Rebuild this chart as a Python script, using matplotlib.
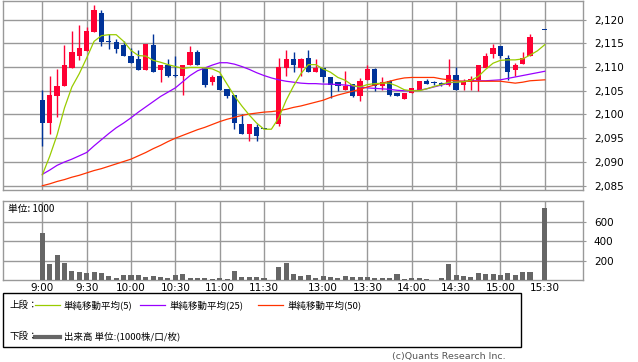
import numpy as np
import matplotlib.pyplot as plt
from matplotlib.patches import Rectangle

plt.rcParams['font.family'] = ['DejaVu Sans']
jp = ['Noto Sans CJK JP', 'DejaVu Sans']

# 5-minute bars, 9:00 .. 11:30, one empty slot, 12:30 .. 15:30 (15:25 empty)
nan = np.nan
opens = [2103.0, 2098.3, 2103.8, 2105.9, 2109.8, 2112.3, 2113.3, 2117.3, 2121.4, 2115.3,
         2115.3, 2114.6, 2112.4, 2111.6, 2109.3, 2114.6, 2109.3, 2110.4, 2108.2, 2108.2,
         2110.4, 2113.1, 2109.8, 2106.8, 2108.0, 2105.4, 2104.0, 2098.1, 2095.9, 2097.4,
         2096.9, nan, 2098.0, 2109.8, 2111.6, 2109.8, 2112.0, 2108.9, 2109.8, 2107.9,
         2106.9, 2105.2, 2106.5, 2103.8, 2107.3, 2109.5, 2105.9, 2107.0, 2104.5, 2103.3,
         2104.5, 2105.2, 2107.0, 2106.6, 2106.6, 2106.3, 2108.4, 2106.3, 2106.9, 2107.3,
         2109.8, 2112.8, 2114.5, 2111.9, 2109.3, 2110.7, 2112.3, nan, 2117.8]
highs = [2105.1, 2108.0, 2109.5, 2114.6, 2117.5, 2118.9, 2118.5, 2123.0, 2121.9, 2117.0,
         2116.0, 2115.4, 2113.9, 2113.5, 2114.9, 2117.0, 2110.5, 2111.6, 2112.4, 2110.5,
         2114.5, 2113.5, 2109.8, 2108.4, 2108.0, 2105.4, 2104.0, 2100.0, 2098.1, 2098.0,
         2096.9, nan, 2111.9, 2113.5, 2113.1, 2111.9, 2113.5, 2111.6, 2109.8, 2107.9,
         2106.9, 2109.1, 2106.5, 2107.6, 2110.5, 2109.8, 2107.9, 2107.3, 2104.5, 2104.5,
         2105.6, 2107.0, 2107.4, 2107.0, 2106.8, 2111.6, 2110.0, 2107.5, 2108.0, 2110.5,
         2113.0, 2114.9, 2114.5, 2112.5, 2110.9, 2113.2, 2117.0, nan, 2117.8]
lows = [2093.3, 2095.9, 2099.5, 2105.9, 2109.8, 2111.4, 2113.3, 2117.3, 2114.4, 2113.8,
        2113.0, 2112.3, 2110.8, 2109.3, 2109.3, 2108.9, 2106.8, 2107.8, 2107.8, 2104.2,
        2110.4, 2110.4, 2105.8, 2106.3, 2105.2, 2103.5, 2096.9, 2095.9, 2094.5, 2094.5,
        2096.9, nan, 2097.5, 2108.2, 2108.9, 2108.2, 2108.9, 2108.9, 2106.8, 2103.5,
        2104.9, 2105.2, 2103.7, 2102.8, 2107.3, 2105.0, 2105.2, 2103.8, 2103.8, 2103.3,
        2104.5, 2105.2, 2106.4, 2106.3, 2105.9, 2105.9, 2105.1, 2105.2, 2105.1, 2104.9,
        2109.8, 2111.9, 2111.9, 2107.3, 2108.2, 2110.7, 2112.3, nan, 2117.8]
closes = [2098.3, 2104.0, 2106.1, 2110.5, 2113.1, 2113.9, 2117.5, 2121.9, 2115.2, 2115.3,
          2113.7, 2112.3, 2110.8, 2109.3, 2114.9, 2108.9, 2110.5, 2108.2, 2108.2, 2110.5,
          2113.1, 2110.4, 2106.3, 2107.9, 2105.2, 2103.8, 2098.3, 2095.9, 2098.1, 2095.4,
          2096.9, nan, 2109.9, 2111.6, 2110.4, 2111.6, 2108.9, 2109.8, 2107.8, 2106.3,
          2105.9, 2106.1, 2103.8, 2107.0, 2109.5, 2106.1, 2106.9, 2104.2, 2103.8, 2104.5,
          2105.6, 2107.0, 2106.4, 2106.6, 2106.3, 2108.4, 2105.1, 2106.9, 2107.5, 2110.5,
          2112.4, 2113.9, 2112.3, 2108.9, 2110.5, 2111.9, 2116.3, nan, 2117.8]

ma5 = [2087.3, 2091.2, 2095.7, 2101.4, 2105.8, 2108.6, 2111.9, 2115.4, 2116.6, 2116.8,
       2116.8, 2115.4, 2113.5, 2112.4, 2112.3, 2111.4, 2111.0, 2110.5, 2110.1, 2109.7,
       2109.9, 2109.9, 2109.8, 2109.6, 2108.9, 2106.4, 2103.9, 2101.8, 2099.9, 2098.2,
       2096.9, 2096.9, 2099.3, 2103.0, 2106.0, 2108.6, 2110.5, 2110.5, 2109.6, 2108.9,
       2107.8, 2107.2, 2106.1, 2105.8, 2106.3, 2106.5, 2106.6, 2106.6, 2106.0, 2105.2,
       2105.0, 2105.0, 2105.4, 2105.9, 2106.3, 2106.8, 2106.8, 2106.9, 2107.2, 2108.0,
       2109.5, 2110.8, 2111.4, 2111.5, 2111.5, 2111.7, 2112.5, 2113.4, 2114.7]
ma25 = [2087.4, 2088.3, 2089.3, 2090.0, 2090.6, 2091.3, 2092.0, 2093.4, 2094.7, 2096.0,
        2097.2, 2098.2, 2099.3, 2100.5, 2101.6, 2102.7, 2103.8, 2104.7, 2105.6, 2106.9,
        2108.2, 2109.2, 2109.8, 2110.4, 2110.9, 2110.9, 2110.6, 2110.1, 2109.5, 2108.8,
        2108.2, 2107.7, 2107.3, 2107.0, 2106.8, 2106.6, 2106.5, 2106.5, 2106.4, 2106.4,
        2106.3, 2106.2, 2106.0, 2105.8, 2105.6, 2105.5, 2105.4, 2105.3, 2105.1, 2105.0,
        2105.0, 2105.1, 2105.4, 2105.8, 2106.2, 2106.6, 2106.9, 2107.0, 2107.1, 2107.1,
        2107.1, 2107.2, 2107.3, 2107.6, 2107.9, 2108.2, 2108.5, 2108.8, 2109.1]
ma50 = [2085.0, 2085.4, 2085.9, 2086.3, 2086.8, 2087.2, 2087.7, 2088.2, 2088.6, 2089.1,
        2089.6, 2090.1, 2090.6, 2091.3, 2092.0, 2092.8, 2093.5, 2094.3, 2095.0, 2095.6,
        2096.2, 2096.8, 2097.3, 2097.9, 2098.5, 2099.0, 2099.4, 2099.8, 2100.1, 2100.3,
        2100.5, 2100.6, 2100.8, 2101.1, 2101.5, 2101.8, 2102.2, 2102.6, 2103.0, 2103.6,
        2104.1, 2104.5, 2104.9, 2105.3, 2105.8, 2106.2, 2106.6, 2107.0, 2107.4, 2107.7,
        2107.8, 2107.8, 2107.8, 2107.8, 2107.5, 2107.3, 2107.1, 2107.0, 2107.0, 2107.0,
        2107.0, 2107.0, 2107.0, 2106.8, 2106.6, 2106.8, 2107.1, 2107.2, 2107.3]

volume = [492, 163, 264, 176, 92, 81, 75, 81, 75, 41,
          20, 51, 51, 51, 34, 41, 31, 20, 51, 61,
          20, 20, 20, 10, 20, 10, 92, 31, 31, 31,
          20, 0, 132, 173, 61, 44, 51, 20, 41, 31,
          20, 41, 31, 31, 31, 20, 20, 20, 61, 10,
          20, 20, 10, 3, 20, 163, 51, 41, 31, 71,
          61, 61, 51, 71, 51, 81, 81, 0, 746]

tick_pos = [0, 6, 12, 18, 24, 30, 38, 44, 50, 56, 62, 68]
tick_labels = ['9:00', '9:30', '10:00', '10:30', '11:00', '11:30',
               '13:00', '13:30', '14:00', '14:30', '15:00', '15:30']
price_ticks = [2085, 2090, 2095, 2100, 2105, 2110, 2115, 2120]
vol_ticks = [200, 400, 600]

up_c = '#ff0033'
down_c = '#003399'
grid_c = '#999999'

fig = plt.figure(figsize=(6.38, 3.62), dpi=100)
ax = fig.add_axes([0.0052, 0.4751, 0.9081, 0.5235])
axv = fig.add_axes([0.0052, 0.2265, 0.9081, 0.2182])

x = np.arange(len(closes))
o = np.array(opens)
h = np.array(highs)
l = np.array(lows)
c = np.array(closes)
ok = ~np.isnan(c)
cols = np.where(c > o, up_c, down_c)

# candles
ax.vlines(x[ok], l[ok], h[ok], colors=cols[ok], lw=1, zorder=3)
body_lo = np.minimum(o, c)
body_h = np.maximum(np.abs(c - o), 0.22)
ax.bar(x[ok], body_h[ok], bottom=body_lo[ok], width=0.72, color=cols[ok], lw=0, zorder=3)

# moving averages
ax.plot(x, ma25, color='#9900ff', lw=0.9, zorder=4)
ax.plot(x, ma50, color='#ff3300', lw=0.9, zorder=5)
ax.plot(x, ma5, color='#99cc00', lw=0.9, zorder=6)

ax.set_xlim(-5.28, 73.13)
ax.set_ylim(2084.1, 2124.0)
ax.set_yticks(price_ticks)
ax.set_yticklabels([f'{p:,}' for p in price_ticks])
ax.set_xticks(tick_pos)
ax.set_xticklabels([])

# volume
axv.bar(x, volume, width=0.68, color='#666666', lw=0, zorder=3)
axv.set_xlim(-5.28, 73.13)
axv.set_ylim(0, 819)
axv.set_yticks(vol_ticks)
axv.set_xticks(tick_pos)
axv.set_xticklabels(tick_labels)

for a in (ax, axv):
    a.grid(True, color=grid_c, lw=1)
    a.set_axisbelow(True)
    a.yaxis.tick_right()
    a.tick_params(axis='y', length=2, color=grid_c, pad=6, labelsize=7.5)
    a.tick_params(axis='x', length=0, pad=2, labelsize=7.5)
    for s in a.spines.values():
        s.set_color(grid_c)
        s.set_linewidth(1)

fig.text(8 / 638, 1 - 209 / 362, '単位: 1000', family=jp, fontsize=7, va='center')

# legend box
fig.add_artist(Rectangle((2.7 / 638, 1 - 346.7 / 362), 518 / 638, 54 / 362,
                         transform=fig.transFigure, fill=False, ec='black', lw=1))
ly1 = 1 - 305 / 362
ly2 = 1 - 336.5 / 362
fig.text(9 / 638, ly1, '上段：', family=jp, fontsize=6.8, va='center')
fig.add_artist(plt.Line2D([35 / 638, 60 / 638], [ly1, ly1], color='#99cc00', lw=0.9))
fig.text(64 / 638, ly1, '単純移動平均(5)', family=jp, fontsize=6.8, va='center')
fig.add_artist(plt.Line2D([140 / 638, 165 / 638], [ly1, ly1], color='#9900ff', lw=0.9))
fig.text(169 / 638, ly1, '単純移動平均(25)', family=jp, fontsize=6.8, va='center')
fig.add_artist(plt.Line2D([258 / 638, 283 / 638], [ly1, ly1], color='#ff3300', lw=0.9))
fig.text(287 / 638, ly1, '単純移動平均(50)', family=jp, fontsize=6.8, va='center')
fig.text(9 / 638, ly2, '下段：', family=jp, fontsize=6.8, va='center')
fig.add_artist(plt.Line2D([35 / 638, 60 / 638], [ly2, ly2], color='#666666', lw=3))
fig.text(64 / 638, ly2, '出来高 単位:(1000株/口/枚)', family=jp, fontsize=6.8, va='center')

fig.text(506 / 638, 1 - 357 / 362, '(c)Quants Research Inc.', fontsize=6.8,
         color='#555555', ha='right', va='center')

fig.savefig('out.png', dpi=100)
